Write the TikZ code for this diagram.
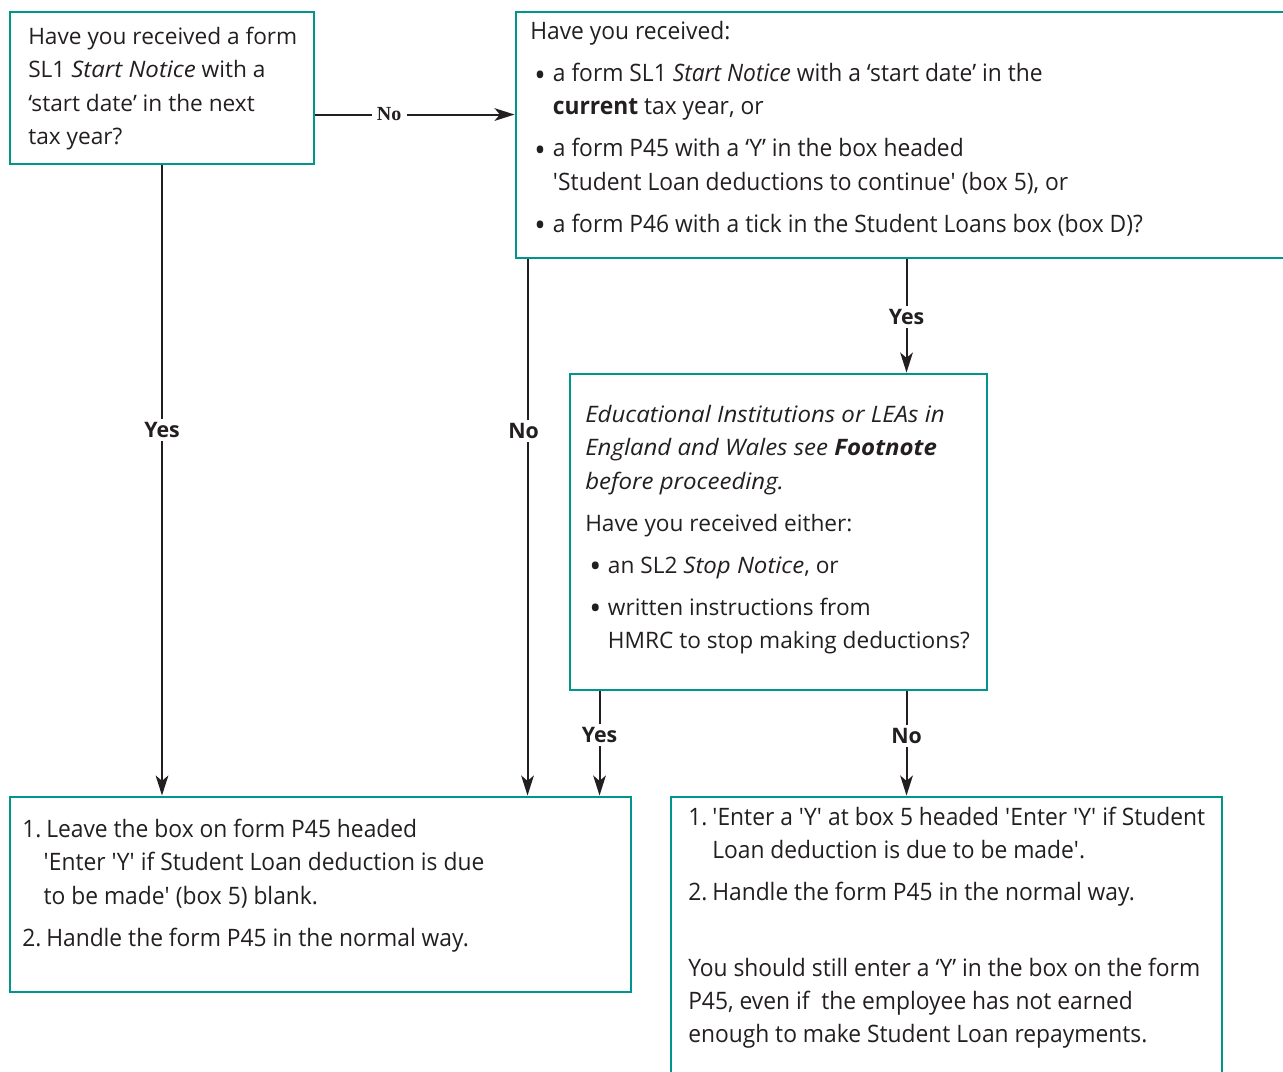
\documentclass[tikz,border=0pt]{standalone}
\usepackage{fontspec}
\setmainfont{Open Sans}[ItalicFeatures={FakeStretch=1.06},BoldItalicFeatures={FakeStretch=1.06}]
\newfontfamily\condfont{Open Sans}[FakeStretch=0.95]
\newfontfamily\labelserif{Liberation Serif}
\usetikzlibrary{arrows.meta,calc,fit}
\definecolor{boxteal}{RGB}{0,150,142}
\definecolor{ink}{RGB}{35,31,32}
\newcommand\bul{\makebox[17pt][l]{\hspace*{3pt}\raisebox{-3.5pt}{\fontsize{24}{25}\selectfont\textbullet}}}
\newcommand\ind{\hspace*{17pt}}
\newcommand\sq{\textquotesingle}
\newcommand\numb[1]{\makebox[18pt][l]{#1}}
\begin{document}
\begin{tikzpicture}[x=0.75pt,y=-0.75pt,
  box/.style={draw=boxteal,line width=2.2pt,inner sep=0pt,rectangle},
  txt/.style={anchor=north west,inner sep=0pt,align=left,text=ink,
    font=\fontsize{17}{25}\selectfont},
  ctxt/.style={txt,font=\condfont\fontsize{18}{25}\selectfont},
  arr/.style={draw=ink,line width=1.5pt,-{Stealth[length=15pt,width=9.5pt,inset=4pt]}},
  lbl/.style={fill=white,inner sep=2.5pt,text=ink,font=\bfseries\fontsize{16}{18}\selectfont},
  slbl/.style={fill=white,inner sep=4pt,text=ink,font=\labelserif\bfseries\fontsize{15}{17}\selectfont}
]
\useasboundingbox (0,0) rectangle (1283,1072);
\clip (0,0) rectangle (1283,1072);

% boxes
\node[box,fit={(10,12) (314,164)}] (b1) {};
\node[box,fit={(516,12) (1295,258)}] (b2) {};
\node[box,fit={(570,374) (987,690)}] (b3) {};
\node[box,fit={(10,797) (631,992)}] (b4) {};
\node[box,fit={(671,797) (1222,1090)}] (b5) {};

% texts
\node[txt] (t1) at (28,27) {Have you received a form\\
SL1 \textit{Start Notice} with a\\
‘start date’ in the next\\
tax year?};

\node[ctxt] (t2) at (530,21) {Have you received:\\[6.5pt]
\bul a form SL1 \textit{Start Notice} with a ‘start date’ in the\\
\ind\textbf{current} tax year, or\\[6.5pt]
\bul a form P45 with a ‘Y’ in the box headed\\
\ind\sq Student Loan deductions to continue\sq{} (box 5), or\\[6.5pt]
\bul a form P46 with a tick in the Student Loans box (box D)?};

\node[txt] (t3) at (585,405) {\textit{Educational Institutions or LEAs in}\\
\textit{England and Wales see \textbf{Footnote}}\\
\textit{before proceeding.}\\[6.5pt]
Have you received either:\\[6.5pt]
\bul an SL2 \textit{Stop Notice}, or\\[6.5pt]
\bul written instructions from\\
\ind HMRC to stop making deductions?};

\node[ctxt] (t4) at (22,819) {\numb{1.}Leave the box on form P45 headed\\
\hspace*{16pt}\sq Enter \sq Y\sq{} if Student Loan deduction is due\\
\hspace*{16pt}to be made\sq{} (box 5) blank.\\[6.5pt]
\numb{2.}Handle the form P45 in the normal way.};

\node[ctxt] (t5) at (688,807) {\numb{1.}\sq Enter a \sq Y\sq{} at box 5 headed \sq Enter \sq Y\sq{} if Student\\
\hspace*{18pt}Loan deduction is due to be made\sq .\\[6.5pt]
\numb{2.}Handle the form P45 in the normal way.\\[31.5pt]
You should still enter a ‘Y’ in the box on the form\\
P45, even if\ \ the employee has not earned\\
enough to make Student Loan repayments.};

% connector anchor points
\coordinate (q1) at ($(b1.north east)+(0,104)$);
\coordinate (p1) at ($(b2.south west)+(13,0)$);
\coordinate (p2) at ($(b2.south west)+(392,0)$);
\coordinate (p3) at ($(b3.south west)+(31,0)$);
\coordinate (p4) at ($(b3.south west)+(338,0)$);

% connectors
\draw[arr] (q1) -- node[slbl,pos=0.37] {No} (q1 -| b2.west);
\draw[arr] (b1.south) -- node[lbl,pos=0.42] {Yes} (b1.south |- b4.north);
\draw[arr] (p1) -- node[lbl,pos=0.32,xshift=-3pt] {No} (p1 |- b4.north);
\draw[arr] (p2) -- node[lbl,pos=0.51] {Yes} (p2 |- b3.north);
\draw[arr] (p3) -- node[lbl,pos=0.42] {Yes} (p3 |- b4.north);
\draw[arr] (p4) -- node[lbl,pos=0.43] {No} (p4 |- b5.north);
\end{tikzpicture}
\end{document}
